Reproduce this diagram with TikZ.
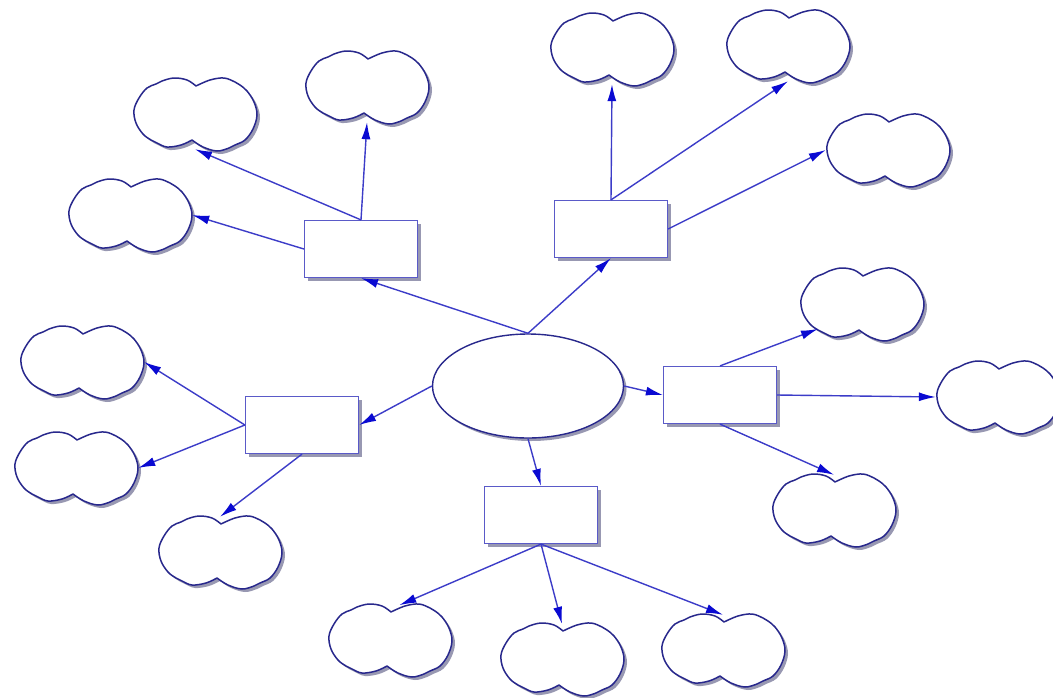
\documentclass[tikz,border=0pt]{standalone}
\usetikzlibrary{shapes.geometric,arrows.meta,shadows,calc}
\definecolor{lineblue}{RGB}{60,60,200}
\definecolor{tipblue}{RGB}{10,10,210}
\definecolor{boxblue}{RGB}{90,90,200}
\definecolor{cloudblue}{RGB}{40,40,140}
\definecolor{shadowgray}{RGB}{135,135,165}
\begin{document}
\begin{tikzpicture}[x=1pt,y=-1pt,
  conn/.style={draw=lineblue, line width=1.4pt, -{Latex[length=17pt,width=9pt,color=tipblue]}},
  shadowed/.style={drop shadow={shadow xshift=3pt, shadow yshift=-3pt, fill=shadowgray, opacity=0.85}},
  box/.style={rectangle, draw=boxblue, line width=1.2pt, fill=white, minimum width=113pt, minimum height=57pt, inner sep=0pt, shadowed},
  hub/.style={ellipse, draw=cloudblue, line width=1.4pt, fill=white, minimum width=191pt, minimum height=104pt, inner sep=0pt, shadowed},
  cloudnode/.style={ellipse, minimum width=124pt, minimum height=70pt, inner sep=0pt},
  cloudline/.style={draw=cloudblue, line width=1.5pt, fill=white, shadowed, line join=round}
]
\useasboundingbox (0,0) rectangle (1053,697);
\fill[white] (0,0) rectangle (1053,697);

% hub and boxes
\node[hub] (E) at (528,386) {};
\node[box] (TL) at (361,249) {};
\node[box] (TR) at (611,229) {};
\node[box] (L) at (302,425) {};
\node[box] (R) at (720,395) {};
\node[box] (B) at (541,515) {};

% clouds
\node[cloudnode] (c1) at (195,114) {};
\node[cloudnode] (c2) at (367,87) {};
\node[cloudnode] (c3) at (130,215) {};
\node[cloudnode] (c4) at (612,49) {};
\node[cloudnode] (c5) at (788,46) {};
\node[cloudnode] (c6) at (888,150) {};
\node[cloudnode] (c7) at (862,304) {};
\node[cloudnode] (c8) at (998,397) {};
\node[cloudnode] (c9) at (834,510) {};
\node[cloudnode] (c10) at (390,640) {};
\node[cloudnode] (c11) at (562,659) {};
\node[cloudnode] (c12) at (723,650) {};
\node[cloudnode] (c13) at (82,362) {};
\node[cloudnode] (c14) at (76,468) {};
\node[cloudnode] (c15) at (220,552) {};

\foreach \i in {1,...,15}
  \draw[cloudline, shift={(c\i.center)}]
    plot[smooth, tension=0.6] coordinates {(1,-28) (-8,-34) (-21,-36) (-33,-33) (-39,-30) (-48,-26) (-56,-16) (-61,-4) (-59,9) (-52,20) (-44,26) (-38,29) (-28,33) (-14,31) (-3,26)}
    -- plot[smooth, tension=0.6] coordinates {(-3,26) (8,33) (22,37) (34,34) (40,31) (50,26) (58,15) (62,1) (59,-12) (52,-23) (45,-29) (40,-32) (29,-36) (15,-34) (1,-28)}
    -- cycle;

% connectors from hub
\draw[conn] (E.north) -- (TL.south);
\draw[conn] (E.north) -- (TR.south);
\draw[conn] (E.west) -- (L.east);
\draw[conn] (E.east) -- (R.west);
\draw[conn] (E.south) -- (B.north);

% connectors from boxes
\draw[conn] (TL.north) -- (c1.south);
\draw[conn] (TL.north) -- (c2.south);
\draw[conn] (TL.west) -- (c3.east);
\draw[conn] (TR.north) -- (c4.south);
\draw[conn] (TR.north) -- (c5.south);
\draw[conn] (TR.east) -- (c6.west);
\draw[conn] (R.north) -- (c7.south west);
\draw[conn] (R.east) -- (c8.west);
\draw[conn] (R.south) -- (c9.north);
\draw[conn] (B.south) -- (c10.75);
\draw[conn] (B.south) -- (c11.north);
\draw[conn] (B.south) -- (c12.north);
\draw[conn] (L.west) -- (c13.east);
\draw[conn] (L.west) -- (c14.east);
\draw[conn] (L.south) -- (c15.north);
\end{tikzpicture}
\end{document}
